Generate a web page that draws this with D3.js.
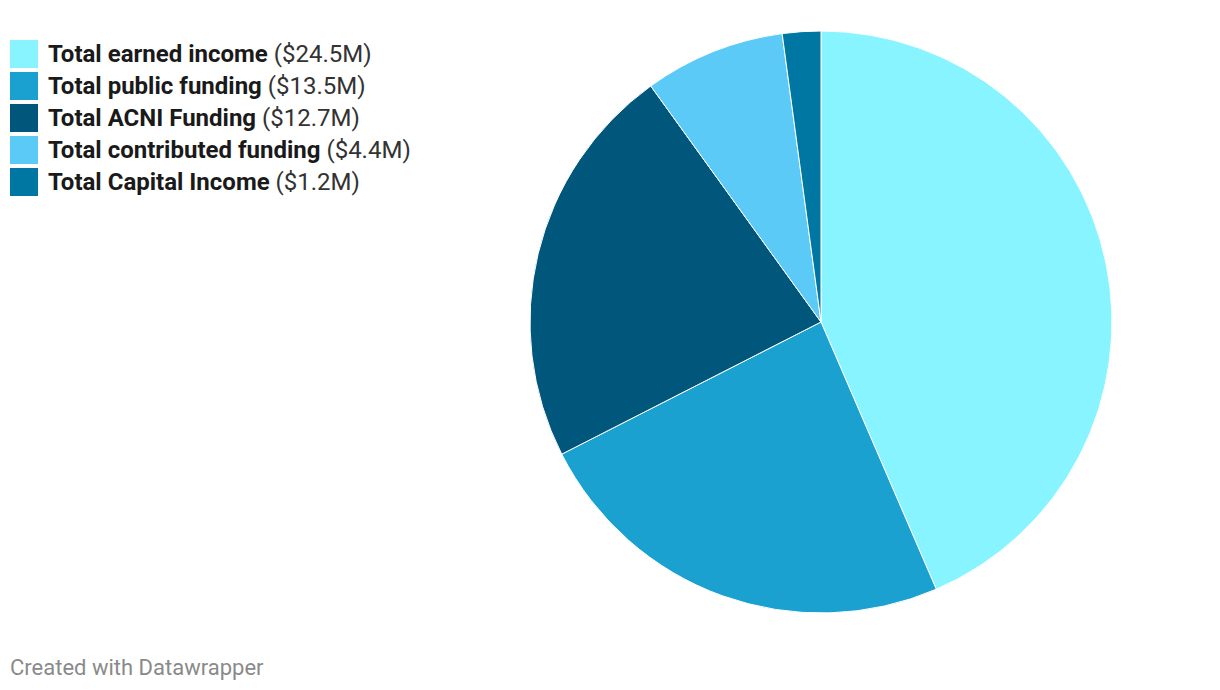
<!DOCTYPE html>
<html><head><meta charset="utf-8">
<script src="https://cdn.jsdelivr.net/npm/d3@7"></script>
<style>body{margin:0;background:#fff;font-family:Roboto,sans-serif;}</style>
</head><body>
<svg id="c" width="1220" height="690"></svg>
<script>
const categories = ["Total earned income","Total public funding","Total ACNI Funding","Total contributed funding","Total Capital Income"];
const values = [24.5, 13.5, 12.7, 4.4, 1.2];
const valueLabels = ["($24.5M)","($13.5M)","($12.7M)","($4.4M)","($1.2M)"];
const colors = ["#88f4ff","#1aa1cf","#01567c","#5bcaf7","#0077a3"];

const svg = d3.select("#c");
const data = categories.map((c,i)=>({name:c, value:values[i], label:valueLabels[i], color:colors[i]}));
const pie = d3.pie().sort(null).value(d=>d.value);
const arc = d3.arc().innerRadius(0).outerRadius(291);
svg.append("g").attr("transform","translate(821,322)")
  .selectAll("path").data(pie(data)).join("path")
  .attr("d",arc).attr("fill",d=>d.data.color)
  .attr("stroke","#fff").attr("stroke-width",1);

const leg = svg.append("g").attr("transform","translate(10,40)");
const rows = leg.selectAll("g").data(data).join("g").attr("transform",(d,i)=>`translate(0,${i*32})`);
rows.append("rect").attr("width",28).attr("height",28).attr("fill",d=>d.color);
const t = rows.append("text").attr("x",38).attr("y",22).attr("font-size",24).attr("fill","#1a1a1a");
t.append("tspan").attr("font-weight","bold").text(d=>d.name+" ");
t.append("tspan").attr("fill","#333").text(d=>d.label);

svg.append("text").attr("x",10).attr("y",675).attr("font-size",22).attr("fill","#8a8a8a").text("Created with Datawrapper");
</script>
</body></html>
